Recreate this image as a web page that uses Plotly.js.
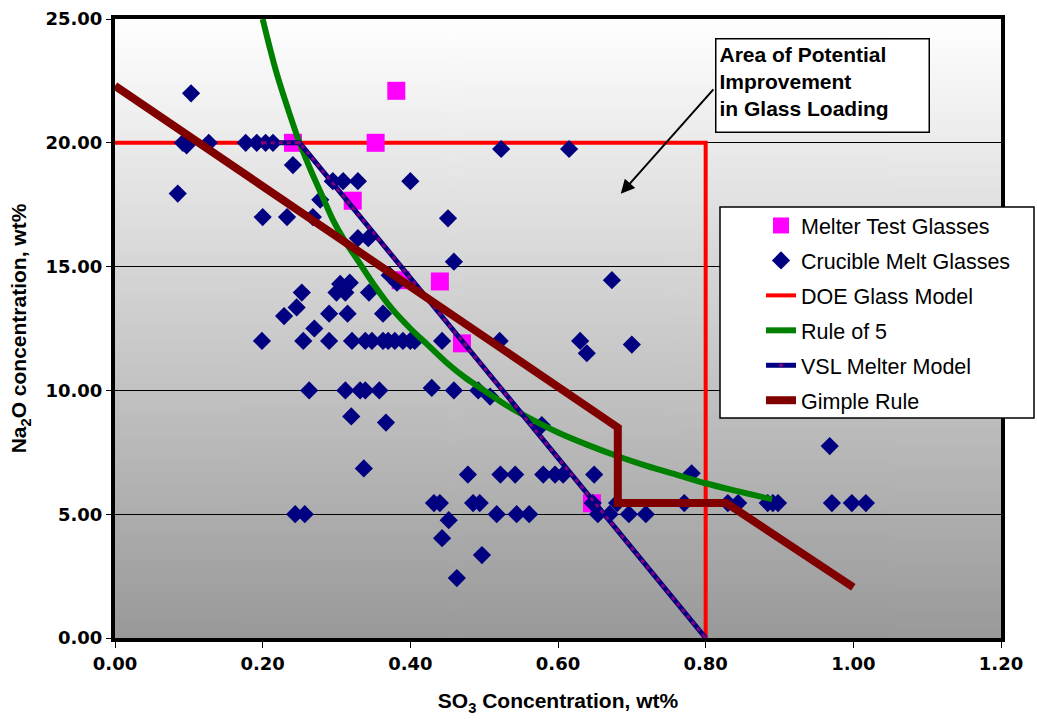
<!DOCTYPE html>
<html>
<head>
<meta charset="utf-8">
<script src="https://cdn.plot.ly/plotly-3.0.1.min.js"></script>
<style>
  html, body { margin: 0; padding: 0; background: #ffffff; }
  #chart { width: 1037px; height: 721px; }
</style>
</head>
<body>
<div id="chart"></div>
<script>
// ---- Data ----
const melterX = [0.241, 0.353, 0.381, 0.322, 0.387, 0.440, 0.470, 0.646];
const melterY = [20.0, 20.0, 22.1, 17.66, 14.45, 14.4, 11.9, 5.44];

const crucibleX = [
  0.092, 0.097, 0.127, 0.177, 0.192, 0.204, 0.214,
  0.103, 0.085, 0.241, 0.523, 0.615,
  0.295, 0.309, 0.329, 0.400,
  0.278, 0.200, 0.233, 0.268, 0.451,
  0.329, 0.343, 0.459,
  0.372, 0.382, 0.673,
  0.305, 0.318, 0.300, 0.312, 0.253, 0.344,
  0.246, 0.229, 0.290, 0.315, 0.363, 0.270,
  0.199, 0.255, 0.290, 0.321, 0.339, 0.348, 0.363, 0.370, 0.379, 0.390, 0.400, 0.406, 0.443, 0.521, 0.630, 0.639, 0.700,
  0.263, 0.312, 0.332, 0.339, 0.358, 0.429, 0.459, 0.492, 0.508,
  0.320, 0.367, 0.578, 0.337, 0.968, 0.781,
  0.478, 0.522, 0.542, 0.580, 0.596, 0.607, 0.649,
  0.432, 0.440, 0.485, 0.494, 0.647, 0.680, 0.771, 0.830, 0.844, 0.884, 0.891, 0.898, 0.971, 0.998, 1.017,
  0.244, 0.257, 0.517, 0.544, 0.561, 0.654, 0.670, 0.696, 0.719,
  0.452, 0.443, 0.497, 0.463
];
const crucibleY = [
  20.0, 19.9, 20.0, 20.0, 20.0, 20.0, 20.0,
  22.0, 17.95, 19.1, 19.75, 19.75,
  18.45, 18.45, 18.45, 18.45,
  17.7, 17.0, 17.0, 17.0, 16.95,
  16.15, 16.15, 15.2,
  14.65, 14.35, 14.45,
  14.3, 14.35, 13.95, 13.95, 13.95, 13.95,
  13.35, 13.0, 13.1, 13.1, 13.1, 12.5,
  12.0, 12.0, 12.0, 12.0, 12.0, 12.0, 12.0, 12.0, 12.0, 12.0, 12.0, 12.0, 12.0, 12.0, 12.0, 11.5, 11.85,
  10.0, 10.0, 10.0, 10.0, 10.0, 10.1, 10.0, 10.0, 9.75,
  8.95, 8.7, 8.6, 6.85, 7.75, 6.65,
  6.6, 6.6, 6.6, 6.6, 6.6, 6.6, 6.6,
  5.45, 5.45, 5.45, 5.45, 5.45, 5.45, 5.45, 5.45, 5.45, 5.45, 5.45, 5.45, 5.45, 5.45, 5.45,
  5.0, 5.0, 5.0, 5.0, 5.0, 5.0, 5.0, 5.0, 5.0,
  4.76, 4.03, 3.35, 2.42
];

const doeX = [0.0, 0.8, 0.8];
const doeY = [20.0, 20.0, 0.0];

const rule5X = [0.200, 0.210, 0.220, 0.235, 0.250, 0.265, 0.280, 0.295, 0.310, 0.330, 0.350, 0.375, 0.400, 0.425, 0.450, 0.475, 0.500, 0.530, 0.560, 0.600, 0.640, 0.680, 0.720, 0.760, 0.800, 0.840, 0.890];
const rule5Y = [25.0, 23.8, 22.7, 21.3, 20.0, 18.9, 17.9, 16.9, 16.1, 15.2, 14.3, 13.3, 12.5, 11.8, 11.1, 10.5, 10.0, 9.4, 8.9, 8.3, 7.8, 7.35, 6.95, 6.6, 6.25, 5.95, 5.6];

const vslX = [0.20, 0.25, 0.80];
const vslY = [20.0, 20.0, 0.0];

const gimpleX = [0.0, 0.681, 0.681, 0.828, 1.0];
const gimpleY = [22.3, 8.5, 5.45, 5.45, 2.05];

const xTickVals = [0, 0.2, 0.4, 0.6, 0.8, 1.0, 1.2];
const yTickVals = [0, 5, 10, 15, 20, 25];

const seriesNames = ['Melter Test Glasses', 'Crucible Melt Glasses', 'DOE Glass Model', 'Rule of 5', 'VSL Melter Model', 'Gimple Rule'];

// ---- Background gradient image ----
const cv = document.createElement('canvas');
cv.width = 4; cv.height = 256;
const ctx = cv.getContext('2d');
const grd = ctx.createLinearGradient(0, 0, 0, 256);
grd.addColorStop(0, '#ffffff');
grd.addColorStop(1, '#999999');
ctx.fillStyle = grd;
ctx.fillRect(0, 0, 4, 256);
const bgURL = cv.toDataURL('image/png');

const FONT = 'Liberation Sans, Arial, sans-serif';
const TICKFONT = 'DejaVu Sans, Liberation Sans, sans-serif';

const traces = [
  { x: doeX, y: doeY, name: seriesNames[2], mode: 'lines', legendrank: 3, legendgroup: 'g3',
    line: { color: '#ff0000', width: 4 } },
  { x: melterX, y: melterY, name: seriesNames[0], mode: 'markers', legendrank: 1, legendgroup: 'g1',
    marker: { symbol: 'square', size: 18, color: '#ff00ff' } },
  { x: crucibleX, y: crucibleY, name: seriesNames[1], mode: 'markers', legendrank: 2, legendgroup: 'g2',
    marker: { symbol: 'diamond', size: 14, color: '#000080' } },
  { x: rule5X, y: rule5Y, name: seriesNames[3], mode: 'lines', legendrank: 4, legendgroup: 'g4',
    line: { color: '#008000', width: 6, shape: 'spline', smoothing: 1 } },
  { x: vslX, y: vslY, name: seriesNames[4], mode: 'lines+markers', legendrank: 5, legendgroup: 'g5',
    line: { color: '#000080', width: 5 }, marker: { color: '#800080', size: 4 } },
  { x: vslX, y: vslY, name: seriesNames[4], mode: 'lines', showlegend: false, legendgroup: 'g5',
    line: { color: '#800080', width: 3, dash: '4px,4px' }, hoverinfo: 'skip' },
  { x: gimpleX, y: gimpleY, name: seriesNames[5], mode: 'lines', legendrank: 6, legendgroup: 'g6',
    line: { color: '#800000', width: 8 } }
];

const L = 115, R = 36, T = 19, B = 83;
const W = 1037, H = 721;
const pw = W - L - R, ph = H - T - B;
const px = v => (v - L) / pw;       // pixel x -> paper
const py = v => (H - B - v) / ph;   // pixel y -> paper

const layout = {
  width: W, height: H,
  margin: { l: L, r: R, t: T, b: B, pad: 0 },
  paper_bgcolor: '#ffffff',
  plot_bgcolor: 'rgba(0,0,0,0)',
  font: { family: FONT, color: '#000000' },
  showlegend: true,
  xaxis: {
    range: [0, 1.2], tickvals: xTickVals, tickformat: '.2f',
    showgrid: false, zeroline: false,
    showline: true, mirror: true, linecolor: '#000000', linewidth: 4,
    ticks: 'outside', ticklen: 6, tickwidth: 1, tickcolor: '#000000',
    tickfont: { family: TICKFONT, size: 18, weight: 700, color: '#000000' },
    title: { text: 'SO<sub>3</sub> Concentration, wt%', font: { family: FONT, size: 21, weight: 700 }, standoff: 22 },
    automargin: false
  },
  yaxis: {
    range: [0, 25], tickvals: yTickVals, tickformat: '.2f',
    showgrid: true, gridcolor: '#000000', gridwidth: 1, zeroline: false,
    showline: true, mirror: true, linecolor: '#000000', linewidth: 4,
    ticks: 'outside', ticklen: 5, tickwidth: 1, tickcolor: '#000000',
    tickfont: { family: TICKFONT, size: 18, weight: 700, color: '#000000' },
    title: { text: 'Na<sub>2</sub>O concentration, wt%', font: { family: FONT, size: 21, weight: 700 }, standoff: 14 },
    automargin: false
  },
  legend: {
    x: px(761), y: py(205), xanchor: 'left', yanchor: 'top',
    bgcolor: 'rgba(0,0,0,0)', borderwidth: 0,
    font: { family: FONT, size: 21.5, color: '#000000' },
    traceorder: 'grouped', tracegroupgap: 4
  },
  images: [{
    source: bgURL, xref: 'paper', yref: 'paper', x: 0, y: 1, sizex: 1, sizey: 1,
    xanchor: 'left', yanchor: 'top', sizing: 'stretch', layer: 'below'
  }],
  shapes: [{
    type: 'rect', xref: 'paper', yref: 'paper', layer: 'above',
    x0: px(720), x1: px(1034), y0: py(418), y1: py(207),
    fillcolor: '#ffffff', line: { color: '#000000', width: 1.5 }
  }],
  annotations: [
    {
      xref: 'paper', yref: 'paper', x: px(715), y: py(38), xanchor: 'left', yanchor: 'top',
      text: 'Area of Potential<br>Improvement<br>in Glass Loading', align: 'left',
      showarrow: false, font: { family: FONT, size: 21, weight: 700, color: '#000000' },
      bgcolor: '#ffffff', bordercolor: '#000000', borderwidth: 1.5, borderpad: 3,
      width: 206, height: 86, valign: 'top'
    },
    {
      xref: 'x', yref: 'y', x: 0.685, y: 17.94, ax: 94, ay: -106,
      text: '', showarrow: true, arrowhead: 2, arrowsize: 1.4, arrowwidth: 2, arrowcolor: '#000000',
      standoff: 0, startstandoff: 0
    }
  ]
};

Plotly.newPlot('chart', traces, layout, { displayModeBar: false, staticPlot: true });
</script>
</body>
</html>
